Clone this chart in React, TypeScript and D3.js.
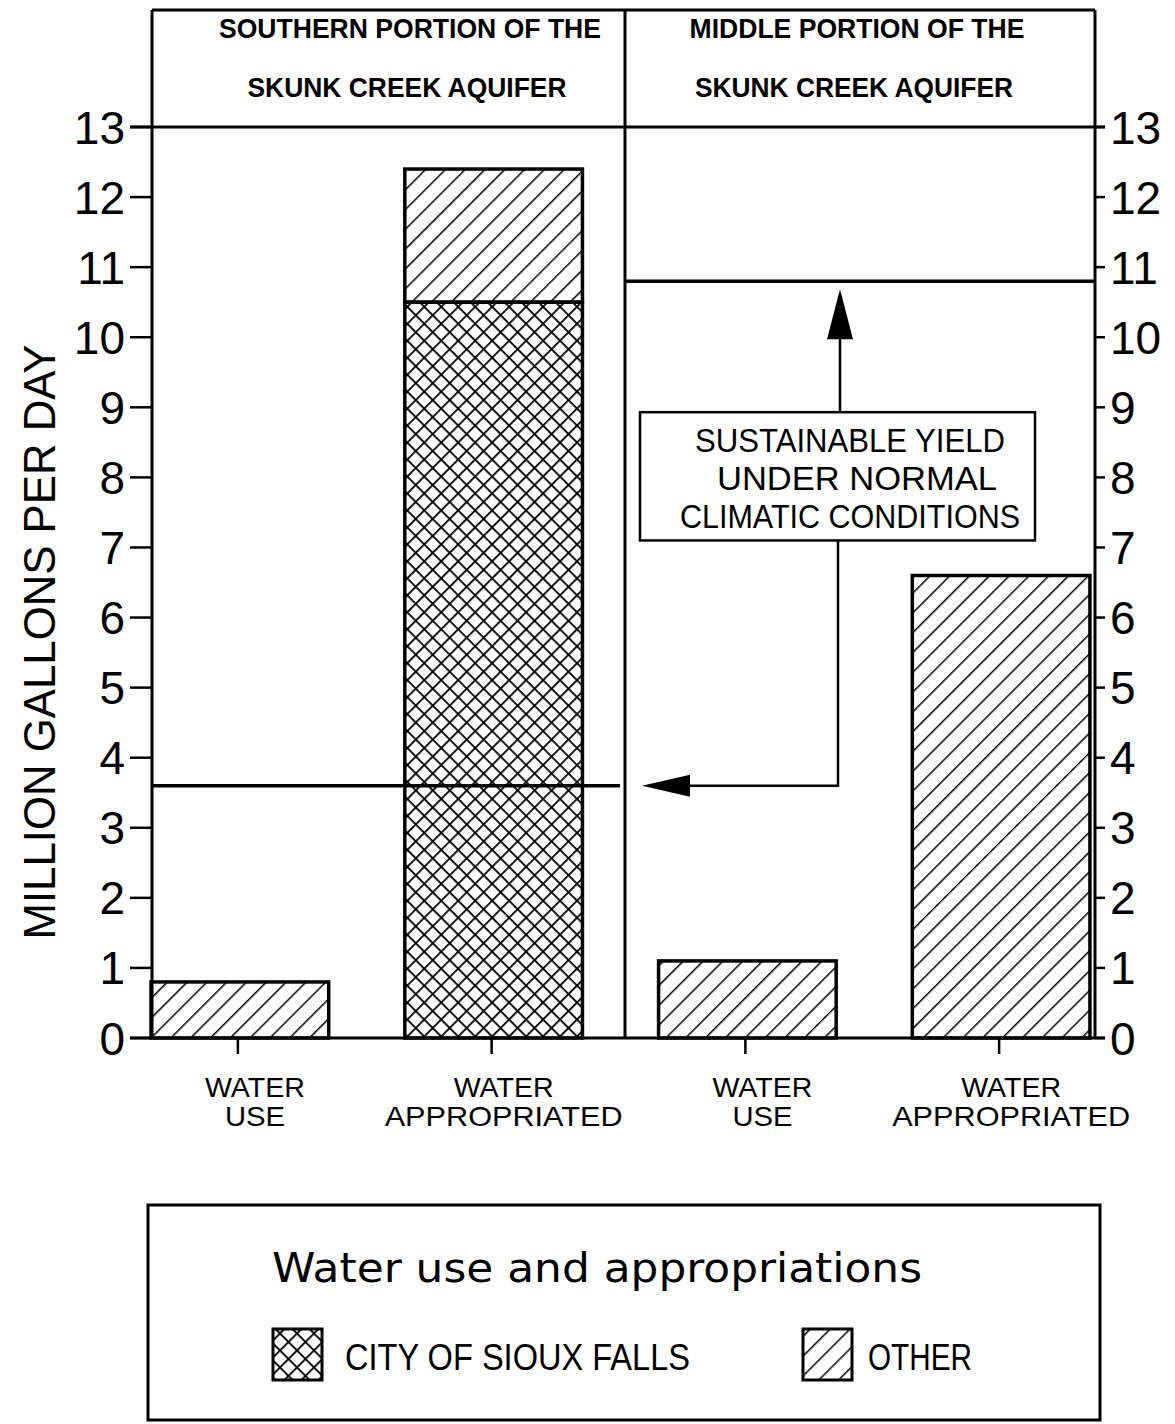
import * as d3 from 'd3';
import React from 'react';

const W = 1175;
const H = 1424;

// chart values (million gallons per day)
const categories = ['southUse', 'southApprop', 'middleUse', 'middleApprop'];
const catLabels = [['WATER', 'USE'], ['WATER', 'APPROPRIATED'], ['WATER', 'USE'], ['WATER', 'APPROPRIATED']];
const cityValues = [0, 10.5, 0, 0];
const otherValues = [0.8, 1.9, 1.1, 6.6];
const regionTitles = [['SOUTHERN PORTION OF THE', 'SKUNK CREEK AQUIFER'], ['MIDDLE PORTION OF THE', 'SKUNK CREEK AQUIFER']];
const sustainableYield = [3.6, 10.8];
const yTicks = d3.range(0, 14);
const legendItems = [
  { key: 'city', label: 'CITY OF SIOUX FALLS' },
  { key: 'other', label: 'OTHER' }
];

const SANS = '"Liberation Sans", Arial, sans-serif';

const App = () => {
  const left = 152;
  const right = 1095;
  const top = 10;
  const y0 = 1038;
  const y13 = 127;
  const divider = 625;

  const y = d3.scaleLinear().domain([0, 13]).range([y0, y13]);
  const x = d3.scaleBand()
    .domain(categories)
    .range([113, 1128])
    .paddingInner(0.3)
    .paddingOuter(0.15);

  const rows = categories.map((c, i) => ({ cat: c, city: cityValues[i], other: otherValues[i] }));
  const series = d3.stack().keys(['city', 'other'])(rows as any);

  // annotation box
  const boxX0 = 640, boxX1 = 1035;
  const arrowX = 840;
  const boxTop = y(8.93), boxBot = y(7.1);
  const upTip = y(sustainableYield[1]) + 8;
  const leftTip = 642;

  return (
    <svg width={W} height={H} style={{ position: 'absolute', left: 0, top: 0, background: '#fff' }}>
      <defs>
        <pattern id="hatch" patternUnits="userSpaceOnUse" width="14" height="14" patternTransform="rotate(45)">
          <line x1="0" y1="-1" x2="0" y2="15" stroke="#000" strokeWidth="3" />
        </pattern>
        <pattern id="cross" patternUnits="userSpaceOnUse" width="12" height="12" patternTransform="rotate(45)">
          <line x1="0" y1="-1" x2="0" y2="13" stroke="#000" strokeWidth="3.6" />
          <line x1="-1" y1="0" x2="13" y2="0" stroke="#000" strokeWidth="3.6" />
        </pattern>
      </defs>

      {/* bars */}
      {series.map(s => (
        <g key={s.key}>
          {s.map((d, i) => d[1] - d[0] > 0 ? (
            <rect key={i}
              x={x(categories[i])}
              y={y(d[1])}
              width={x.bandwidth()}
              height={y(d[0]) - y(d[1])}
              fill={s.key === 'city' ? 'url(#cross)' : 'url(#hatch)'}
              stroke="#000" strokeWidth={3.5} />
          ) : null)}
        </g>
      ))}

      {/* frame: header box, axes, divider */}
      <g stroke="#000" strokeWidth={3} fill="none">
        <line x1={left} y1={top} x2={right} y2={top} />
        <line x1={left} y1={top} x2={left} y2={y0} />
        <line x1={right} y1={top} x2={right} y2={y0} />
        <line x1={divider} y1={top} x2={divider} y2={y0} />
        <line x1={130} y1={y13} x2={1105} y2={y13} />
        <line x1={130} y1={y0} x2={1105} y2={y0} />
      </g>

      {/* region titles */}
      {regionTitles.map((t, i) => {
        const cx = i === 0 ? 410 : 857;
        const lens = i === 0 ? [382, 319] : [335, 318];
        return (
          <g key={i} fontFamily={SANS} fontSize={27} fontWeight="bold" textAnchor="middle">
            <text x={cx} y={38} textLength={lens[0]} lengthAdjust="spacingAndGlyphs">{t[0]}</text>
            <text x={cx - 3} y={97} textLength={lens[1]} lengthAdjust="spacingAndGlyphs">{t[1]}</text>
          </g>
        );
      })}

      {/* y ticks both sides */}
      <g stroke="#000" strokeWidth={2.5}>
        {yTicks.map(t => (
          <g key={t}>
            <line x1={130} x2={left} y1={y(t)} y2={y(t)} />
            <line x1={right} x2={1105} y1={y(t)} y2={y(t)} />
          </g>
        ))}
      </g>
      <g fontFamily={SANS} fontSize={46} fill="#000">
        {yTicks.map(t => (
          <g key={t}>
            <text x={125} y={y(t)} dy="0.36em" textAnchor="end">{t}</text>
            <text x={1110} y={y(t)} dy="0.36em" textAnchor="start">{t}</text>
          </g>
        ))}
      </g>
      <text transform="translate(55,642) rotate(-90)" fontFamily={SANS} fontSize={44} textAnchor="middle"
        textLength={595} lengthAdjust="spacingAndGlyphs">MILLION GALLONS PER DAY</text>

      {/* x ticks and labels */}
      {categories.map((c, i) => {
        const cx = (x(c) as number) + x.bandwidth() / 2;
        const long = catLabels[i][1] === 'APPROPRIATED';
        return (
          <g key={c}>
            <line x1={cx - 2} x2={cx - 2} y1={y0} y2={y0 + 16} stroke="#000" strokeWidth={2.5} />
            <g fontFamily={SANS} fontSize={28} textAnchor="middle">
              <text x={cx + (long ? 10 : 15)} y={1097} textLength={100} lengthAdjust="spacingAndGlyphs">{catLabels[i][0]}</text>
              <text x={cx + (long ? 10 : 15)} y={1126} textLength={long ? 238 : 60} lengthAdjust="spacingAndGlyphs">{catLabels[i][1]}</text>
            </g>
          </g>
        );
      })}

      {/* sustainable yield lines */}
      <g stroke="#000" strokeWidth={3.5}>
        <line x1={left} x2={620} y1={y(sustainableYield[0])} y2={y(sustainableYield[0])} />
        <line x1={divider} x2={right} y1={y(sustainableYield[1])} y2={y(sustainableYield[1])} />
      </g>

      {/* annotation */}
      <g stroke="#000" strokeWidth={2.5} fill="none">
        <rect x={boxX0} y={boxTop} width={boxX1 - boxX0} height={boxBot - boxTop} fill="#fff" />
        <line x1={arrowX} x2={arrowX} y1={boxTop} y2={upTip + 45} />
        <polyline points={`${arrowX - 2},${boxBot} ${arrowX - 2},${y(sustainableYield[0])} ${leftTip + 45},${y(sustainableYield[0])}`} />
      </g>
      <path d={`M${arrowX},${upTip} L${arrowX - 13},${upTip + 50} L${arrowX + 13},${upTip + 50} Z`} fill="#000" />
      <path d={`M${leftTip},${y(sustainableYield[0])} L${leftTip + 48},${y(sustainableYield[0]) - 11} L${leftTip + 48},${y(sustainableYield[0]) + 11} Z`} fill="#000" />
      <g fontFamily={SANS} fontSize={34} textAnchor="middle">
        <text x={850} y={452} textLength={310} lengthAdjust="spacingAndGlyphs">SUSTAINABLE YIELD</text>
        <text x={857} y={490} textLength={280} lengthAdjust="spacingAndGlyphs">UNDER NORMAL</text>
        <text x={850} y={528} textLength={340} lengthAdjust="spacingAndGlyphs">CLIMATIC CONDITIONS</text>
      </g>

      {/* legend */}
      <rect x={148} y={1205} width={952} height={215} fill="none" stroke="#000" strokeWidth={3} />
      <text x={597} y={1282} fontFamily='"DejaVu Sans", sans-serif' fontSize={40} textAnchor="middle"
        textLength={650} lengthAdjust="spacingAndGlyphs">Water use and appropriations</text>
      {legendItems.map((item, i) => {
        const sx = i === 0 ? 273 : 803;
        const tx = i === 0 ? 345 : 868;
        const len = i === 0 ? 345 : 104;
        return (
          <g key={item.key}>
            <rect x={sx} y={1329} width={49} height={51}
              fill={item.key === 'city' ? 'url(#cross)' : 'url(#hatch)'} stroke="#000" strokeWidth={3} />
            <text x={tx} y={1370} fontFamily={SANS} fontSize={36} textLength={len} lengthAdjust="spacingAndGlyphs">{item.label}</text>
          </g>
        );
      })}
    </svg>
  );
};

export default App;
